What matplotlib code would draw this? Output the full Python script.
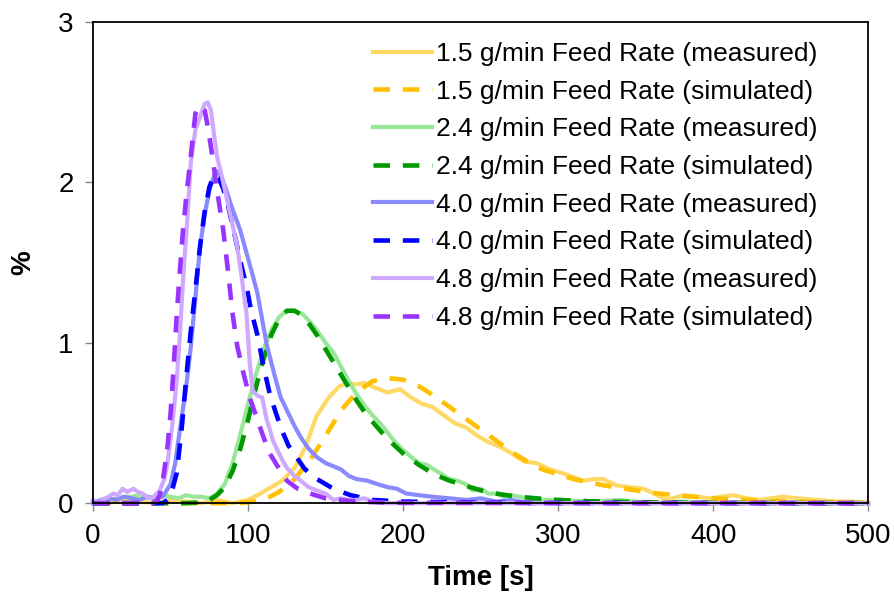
import matplotlib
matplotlib.use("Agg")
import matplotlib.pyplot as plt

plt.rcParams['font.family'] = ['Liberation Sans', 'DejaVu Sans']

# 1.5 g/min
t_15m = [0, 10, 20, 30, 40, 50, 60, 70, 80, 90, 100, 108, 115, 122, 130, 137, 144, 152, 159, 165, 170,
         175, 182, 190, 198, 205, 212, 219, 226, 233, 241, 248, 255, 263, 270, 278, 286, 295, 305, 316,
         323, 329, 338, 346, 355, 362, 370, 381, 390, 398, 405, 413, 422, 430, 437, 445, 455, 467, 480,
         490, 500]
v_15m = [0.01, 0.0, 0.02, 0.01, 0.0, 0.02, 0.01, 0.0, 0.02, 0.0, 0.02, 0.06, 0.1, 0.14, 0.22, 0.35, 0.54,
         0.66, 0.73, 0.75, 0.74, 0.75, 0.72, 0.69, 0.71, 0.66, 0.62, 0.60, 0.55, 0.50, 0.47, 0.42, 0.38,
         0.35, 0.31, 0.26, 0.25, 0.21, 0.18, 0.14, 0.15, 0.15, 0.11, 0.10, 0.09, 0.06, 0.02, 0.05, 0.04,
         0.03, 0.04, 0.05, 0.03, 0.02, 0.03, 0.04, 0.03, 0.02, 0.01, 0.01, 0.0]
t_15s = [0, 50, 90, 100, 110, 120, 130, 140, 150, 160, 170, 180, 190, 200, 210, 220, 230, 240, 250, 260,
         270, 280, 290, 300, 310, 320, 330, 340, 350, 360, 370, 380, 390, 400, 420, 440, 460, 480, 500]
v_15s = [0, 0, 0, 0.005, 0.02, 0.07, 0.15, 0.27, 0.42, 0.58, 0.69, 0.76, 0.78, 0.77, 0.73, 0.67, 0.60,
         0.53, 0.46, 0.39, 0.32, 0.26, 0.21, 0.18, 0.15, 0.13, 0.11, 0.095, 0.08, 0.065, 0.055, 0.045,
         0.038, 0.03, 0.02, 0.012, 0.008, 0.004, 0.002]

# 2.4 g/min
t_24m = [0, 5, 10, 15, 20, 25, 30, 35, 40, 45, 50, 55, 60, 65, 70, 75, 80, 85, 90, 95, 100, 105, 110,
         115, 120, 125, 130, 135, 140, 145, 150, 155, 160, 165, 170, 175, 180, 185, 190, 195, 200, 205,
         210, 215, 220, 225, 230, 235, 240, 245, 250, 255, 260, 265, 270, 280, 290, 300, 320, 340, 360,
         380, 400, 450, 500]
v_24m = [0, 0.01, 0.02, 0.03, 0.04, 0.04, 0.05, 0.04, 0.03, 0.05, 0.04, 0.03, 0.05, 0.04, 0.04, 0.03,
         0.06, 0.12, 0.25, 0.43, 0.62, 0.80, 0.96, 1.08, 1.16, 1.20, 1.20, 1.18, 1.13, 1.07, 1.00, 0.94,
         0.85, 0.76, 0.68, 0.61, 0.55, 0.50, 0.44, 0.38, 0.33, 0.29, 0.25, 0.24, 0.21, 0.18, 0.15, 0.14,
         0.12, 0.08, 0.09, 0.06, 0.06, 0.04, 0.05, 0.03, 0.02, 0.02, 0.01, 0.02, 0.0, 0.01, 0.0, 0.0, 0.0]
t_24s = [0, 60, 70, 75, 80, 85, 90, 95, 100, 105, 110, 115, 120, 125, 130, 135, 140, 145, 150, 155, 160,
         165, 170, 175, 180, 190, 200, 210, 220, 230, 240, 250, 260, 270, 280, 290, 300, 320, 340, 360,
         380, 400, 450, 500]
v_24s = [0, 0, 0.005, 0.02, 0.05, 0.1, 0.2, 0.34, 0.52, 0.72, 0.90, 1.05, 1.15, 1.20, 1.20, 1.17, 1.11,
         1.04, 0.96, 0.88, 0.80, 0.72, 0.64, 0.57, 0.51, 0.40, 0.31, 0.24, 0.18, 0.14, 0.11, 0.08, 0.06,
         0.045, 0.035, 0.027, 0.02, 0.012, 0.008, 0.005, 0.003, 0.002, 0.001, 0.0]

# 4.0 g/min
t_40m = [0, 5, 10, 15, 20, 25, 30, 35, 40, 45, 50, 53, 56, 60, 63, 66, 69, 72, 75, 78, 80, 83, 86, 89,
         92, 95, 99, 103, 106, 109, 112, 117, 121, 125, 130, 134, 139, 144, 150, 155, 160, 165, 170, 177,
         183, 190, 196, 202, 210, 219, 230, 241, 250, 260, 270, 280, 300, 350, 400, 450, 500]
v_40m = [0, 0.02, 0.03, 0.02, 0.04, 0.03, 0.02, 0.04, 0.03, 0.04, 0.12, 0.25, 0.46, 0.72, 0.97, 1.28,
         1.60, 1.80, 1.95, 2.04, 2.07, 2.03, 1.95, 1.86, 1.78, 1.70, 1.56, 1.42, 1.31, 1.15, 0.99, 0.80,
         0.66, 0.58, 0.48, 0.41, 0.34, 0.29, 0.25, 0.23, 0.21, 0.17, 0.15, 0.14, 0.12, 0.10, 0.09, 0.06,
         0.05, 0.04, 0.03, 0.02, 0.03, 0.01, 0.02, 0.0, 0.0, 0.0, 0.0, 0.0, 0.0]
t_40s = [0, 45, 48, 51, 54, 57, 60, 63, 66, 69, 72, 75, 78, 81, 84, 87, 90, 93, 96, 99, 102, 106, 110,
         114, 118, 122, 126, 131, 136, 141, 148, 155, 166, 180, 200, 250, 300, 500]
v_40s = [0, 0, 0.02, 0.08, 0.19, 0.45, 0.77, 1.07, 1.33, 1.60, 1.82, 1.97, 2.05, 2.03, 1.96, 1.86, 1.73,
         1.60, 1.47, 1.35, 1.20, 1.05, 0.85, 0.68, 0.56, 0.45, 0.36, 0.29, 0.22, 0.17, 0.13, 0.09, 0.05,
         0.02, 0.01, 0.003, 0.001, 0.0]

# 4.8 g/min
t_48m = [0, 3, 6, 10, 13, 16, 19, 22, 26, 29, 32, 36, 39, 43, 46, 48, 51, 54, 56, 58, 61, 63, 66, 69,
         72, 74, 76, 78, 80, 83, 86, 89, 93, 96, 99, 101, 103, 106, 109, 112, 114, 116, 119, 122, 125,
         130, 134, 139, 144, 150, 155, 160, 165, 170, 175, 180, 190, 200, 250, 300, 500]
v_48m = [0.02, 0.0, 0.02, 0.04, 0.06, 0.05, 0.09, 0.07, 0.09, 0.07, 0.06, 0.03, 0.04, 0.08, 0.15, 0.25,
         0.48, 0.77, 1.05, 1.39, 1.80, 2.12, 2.33, 2.41, 2.49, 2.50, 2.45, 2.30, 2.16, 2.04, 1.91, 1.78,
         1.60, 1.40, 1.18, 0.88, 0.70, 0.67, 0.66, 0.52, 0.46, 0.39, 0.33, 0.27, 0.22, 0.17, 0.14, 0.10,
         0.08, 0.06, 0.02, 0.03, 0.02, 0.02, 0.03, 0.01, 0.0, 0.0, 0.0, 0.0, 0.0]
t_48s = [0, 38, 41, 43, 45, 48, 50, 52, 54, 56, 58, 60, 63, 66, 69, 72, 74, 77, 80, 84, 87, 90, 93, 97,
         101, 106, 110, 114, 119, 125, 132, 140, 150, 159, 170, 185, 200, 500]
v_48s = [0, 0, 0.01, 0.05, 0.14, 0.35, 0.56, 0.85, 1.18, 1.45, 1.70, 1.90, 2.16, 2.43, 2.48, 2.45, 2.35,
         2.16, 1.95, 1.70, 1.45, 1.18, 0.98, 0.81, 0.66, 0.52, 0.41, 0.31, 0.23, 0.14, 0.09, 0.06, 0.03,
         0.02, 0.01, 0.005, 0.002, 0.0]

rates = ['1.5', '2.4', '4.0', '4.8']
measured = [(t_15m, v_15m), (t_24m, v_24m), (t_40m, v_40m), (t_48m, v_48m)]
simulated = [(t_15s, v_15s), (t_24s, v_24s), (t_40s, v_40s), (t_48s, v_48s)]
light_colors = ['#FFD966', '#99E699', '#8A8AFF', '#CFA8FF']
dark_colors = ['#FFC000', '#009A00', '#0000FF', '#9933FF']

fig, ax = plt.subplots(figsize=(8.95, 5.99), dpi=100)
fig.subplots_adjust(left=0.104, right=0.970, bottom=0.160, top=0.963)

for rate, (tm, vm), (ts, vs), lc, dc in zip(rates, measured, simulated, light_colors, dark_colors):
    ax.plot(tm, vm, color=lc, lw=3.0, label=f'{rate} g/min Feed Rate (measured)', clip_on=False)
    ax.plot(ts, vs, color=dc, lw=3.3, dashes=(3.6, 2.8), label=f'{rate} g/min Feed Rate (simulated)',
            clip_on=False)

ax.set_xlim(0, 500)
ax.set_ylim(0, 3)
ax.set_xticks([0, 100, 200, 300, 400, 500])
ax.set_yticks([0, 1, 2, 3])
ax.tick_params(direction='out', length=6, width=1, color='#888888', labelsize=20, pad=8)
for s in ax.spines.values():
    s.set_linewidth(1.3)
    s.set_color('black')

ax.set_xlabel('Time [s]', fontsize=20, fontweight='bold', labelpad=12)
ax.set_ylabel('%', fontsize=20, fontweight='bold', labelpad=16)

ax.legend(loc='upper right', bbox_to_anchor=(0.955, 0.992), frameon=False, fontsize=19,
          handlelength=2.25, handletextpad=0.15, labelspacing=0.52, borderaxespad=0.2)

fig.savefig('out.png', dpi=100)
